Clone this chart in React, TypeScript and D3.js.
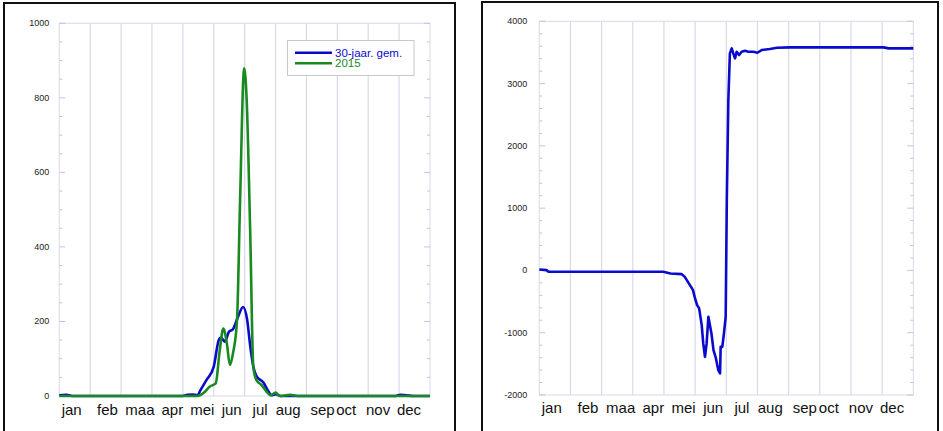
import React, { useRef, useEffect } from 'react';
import * as d3 from 'd3';

// month labels and where they sit (in month units from 1 jan)
const months = ['jan', 'feb', 'maa', 'apr', 'mei', 'jun', 'jul', 'aug', 'sep', 'oct', 'nov', 'dec'];
const monthLabelPos = [0.4, 1.56, 2.61, 3.66, 4.63, 5.58, 6.5, 7.41, 8.52, 9.29, 10.32, 11.32];

// [day of year, value]
const avg30: [number, number][] = [
  [0, 2], [7, 3], [14, 0], [120, 0], [126, 3], [131, 4], [136, 2], [139, 16], [145, 43],
  [152, 78], [157, 150], [159, 157], [163, 146], [167, 172], [171, 179], [176, 213],
  [181, 239], [185, 204], [188, 134], [191, 80], [194, 54], [201, 36], [206, 12], [209, 2],
  [213, 5], [218, 0], [330, 0], [336, 3], [342, 2], [348, 0], [365, 0],
];

const y2015: [number, number][] = [
  [0, 0], [136, 0], [142, 8], [148, 25], [154, 34], [158, 123], [161.5, 181], [165, 141],
  [168, 83], [171, 114], [175, 204], [178, 525], [182, 879], [184.5, 794], [188, 436],
  [191, 79], [194, 43], [199, 30], [204, 12], [208, 2], [213, 9], [217, 0], [227, 3],
  [237, 0], [365, 0],
];

const cumulative: [number, number][] = [
  [0, 16], [7, 5], [9, -22], [121, -22], [128, -48], [139, -59], [142, -103], [145, -183],
  [149, -289], [150, -316], [152, -450], [154, -557], [156, -610], [158.5, -878], [160, -1172],
  [161.7, -1387], [163.3, -1172], [165, -745], [168, -1012], [170, -1280], [172.4, -1413],
  [174.7, -1601], [176.4, -1654], [177, -1227], [178.6, -1227], [180.2, -1012], [181.9, -745],
  [183, 1129], [184.5, 2735], [186, 3485], [187.8, 3565], [189.3, 3485], [191, 3405],
  [192.6, 3511], [195, 3458], [197.5, 3511], [200.7, 3527], [204, 3511], [209, 3511],
  [212.8, 3495], [217, 3538], [225, 3554], [232, 3575], [245, 3581], [336, 3581], [341, 3565],
  [365, 3565],
];

const leftTicks = [0, 200, 400, 600, 800, 1000];
const rightTicks = [-2000, -1000, 0, 1000, 2000, 3000, 4000];

const legendItems = [
  { name: '30-jaar. gem.', color: '#0a0acc' },
  { name: '2015', color: '#198a1f' },
];

const gridColor = '#d9d9ec';
const tickColor = '#c4c4d8';

const App = () => {
  const svgRef = useRef(null);

  useEffect(() => {
    const svg = d3.select(svgRef.current);
    svg.selectAll('*').remove();

    const drawPanel = (opt) => {
      const g = svg.append('g');
      const { x0, x1, yTop, yBot, domain, ticks, minorStep, labelY } = opt;

      const xMonth = d3.scaleLinear().domain([0, 12]).range([x0, x1]);
      const xDay = d3.scaleLinear().domain([0, 365]).range([x0, x1]);
      const y = d3.scaleLinear().domain(domain).range([yBot, yTop]);

      // frame + month grid
      g.append('rect')
        .attr('x', x0).attr('y', yTop)
        .attr('width', x1 - x0).attr('height', yBot - yTop)
        .attr('fill', 'none').attr('stroke', gridColor);

      g.selectAll('line.grid')
        .data(d3.range(1, 12))
        .enter()
        .append('line')
        .attr('x1', (d) => xMonth(d)).attr('x2', (d) => xMonth(d))
        .attr('y1', yTop).attr('y2', yBot)
        .attr('stroke', gridColor).attr('stroke-width', 1.2);

      // y ticks, major and minor, both sides
      const minor = d3.range(domain[0], domain[1] + 0.001, minorStep);
      minor.forEach((v) => {
        const len = ticks.includes(v) ? 6 : 3;
        [[x0, x0 + len], [x1, x1 - len]].forEach(([a, b]) => {
          g.append('line')
            .attr('x1', a).attr('x2', b)
            .attr('y1', y(v)).attr('y2', y(v))
            .attr('stroke', tickColor);
        });
      });

      g.selectAll('text.ytick')
        .data(ticks)
        .enter()
        .append('text')
        .attr('x', x0 - opt.labelGap)
        .attr('y', (d) => y(d) + 3)
        .attr('text-anchor', 'end')
        .attr('font-family', 'Liberation Sans, Arial, sans-serif')
        .attr('font-size', 9)
        .attr('fill', '#222')
        .text((d) => d);

      g.selectAll('text.month')
        .data(months)
        .enter()
        .append('text')
        .attr('x', (d, i) => xMonth(monthLabelPos[i]))
        .attr('y', labelY)
        .attr('text-anchor', 'middle')
        .attr('font-family', 'Liberation Sans, Arial, sans-serif')
        .attr('font-size', 15)
        .attr('fill', '#111')
        .text((d) => d);

      return { g, xDay, y };
    };

    // panel borders
    svg.append('rect').attr('x', 4).attr('y', 3).attr('width', 451).attr('height', 460)
      .attr('fill', 'none').attr('stroke', '#111').attr('stroke-width', 2);
    svg.append('rect').attr('x', 482).attr('y', 2).attr('width', 456).attr('height', 460)
      .attr('fill', 'none').attr('stroke', '#111').attr('stroke-width', 2);

    const left = drawPanel({
      x0: 59.3, x1: 430, yTop: 23.3, yBot: 396, domain: [0, 1000],
      ticks: leftTicks, minorStep: 50, labelY: 415, labelGap: 10,
    });

    const lineL = d3.line()
      .x((d) => left.xDay(d[0]))
      .y((d) => left.y(d[1]))
      .curve(d3.curveMonotoneX);

    [avg30, y2015].forEach((series, i) => {
      left.g.append('path')
        .datum(series)
        .attr('fill', 'none')
        .attr('stroke', legendItems[i].color)
        .attr('stroke-width', 2.6)
        .attr('stroke-linejoin', 'round')
        .attr('d', lineL);
    });

    // legend
    const lg = left.g.append('g');
    lg.append('rect')
      .attr('x', 287.5).attr('y', 40.5).attr('width', 126.5).attr('height', 35)
      .attr('fill', '#fff').attr('stroke', '#c8c8c8');
    legendItems.forEach((it, i) => {
      const ly = 52.7 + i * 10.6;
      lg.append('line')
        .attr('x1', 295).attr('x2', 332).attr('y1', ly).attr('y2', ly)
        .attr('stroke', it.color).attr('stroke-width', 2.6);
      lg.append('text')
        .attr('x', 335).attr('y', ly + 4)
        .attr('font-family', 'Liberation Sans, Arial, sans-serif')
        .attr('font-size', 11.5)
        .attr('fill', it.color)
        .text(it.name);
    });

    const right = drawPanel({
      x0: 539.3, x1: 913.3, yTop: 21.3, yBot: 395, domain: [-2000, 4000],
      ticks: rightTicks, minorStep: 200, labelY: 413, labelGap: 12,
    });

    const lineR = d3.line()
      .x((d) => right.xDay(d[0]))
      .y((d) => right.y(d[1]));

    right.g.append('path')
      .datum(cumulative)
      .attr('fill', 'none')
      .attr('stroke', '#0a0acc')
      .attr('stroke-width', 2.6)
      .attr('stroke-linejoin', 'round')
      .attr('d', lineR);
  }, []);

  return (
    <div>
      <svg ref={svgRef} width={943} height={431}
        style={{ position: 'absolute', left: 0, top: 0, background: '#fff' }} />
    </div>
  );
};

export default App;
